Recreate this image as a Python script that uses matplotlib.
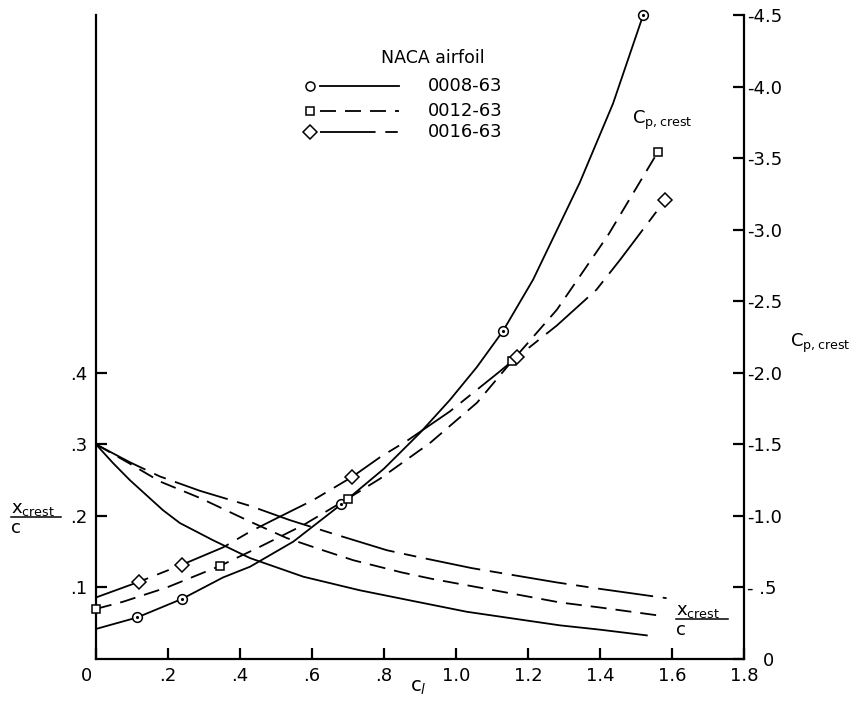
import matplotlib
matplotlib.use("Agg")
import matplotlib.pyplot as plt
from matplotlib.lines import Line2D
import matplotlib.transforms as mtransforms

plt.rcParams['font.family'] = ['DejaVu Sans']
plt.rcParams['lines.scale_dashes'] = False

# ---- data ----
# pressure coefficient at the crest (right axis, negative up)
cl_cp_0008 = [0, 0.114, 0.239, 0.353, 0.428, 0.548, 0.681, 0.80, 0.90, 0.983, 1.058, 1.13, 1.214, 1.344, 1.436, 1.52]
cp_0008 = [-0.21, -0.29, -0.42, -0.57, -0.645, -0.82, -1.08, -1.33, -1.58, -1.81, -2.04, -2.29, -2.65, -3.33, -3.88, -4.5]
cl_cp_0012 = [0, 0.075, 0.197, 0.344, 0.456, 0.576, 0.699, 0.789, 0.928, 1.058, 1.155, 1.28, 1.422, 1.56]
cp_0012 = [-0.35, -0.40, -0.50, -0.65, -0.785, -0.936, -1.12, -1.26, -1.51, -1.79, -2.08, -2.44, -2.96, -3.54]
cl_cp_0016 = [0, 0.12, 0.24, 0.353, 0.428, 0.511, 0.603, 0.71, 0.789, 0.867, 0.983, 1.117, 1.17, 1.28, 1.39, 1.456, 1.567, 1.58]
cp_0016 = [-0.43, -0.54, -0.66, -0.78, -0.89, -0.995, -1.11, -1.27, -1.41, -1.53, -1.73, -2.0, -2.11, -2.33, -2.58, -2.79, -3.16, -3.21]

# test points (markers)
cl_pts_0008 = [0.114, 0.239, 0.681, 1.13, 1.52]
cp_pts_0008 = [-0.29, -0.42, -1.08, -2.29, -4.5]
cl_pts_0012 = [0, 0.344, 0.699, 1.155, 1.56]
cp_pts_0012 = [-0.35, -0.65, -1.12, -2.08, -3.54]
cl_pts_0016 = [0.12, 0.24, 0.71, 1.17, 1.58]
cp_pts_0016 = [-0.54, -0.66, -1.27, -2.11, -3.21]

# crest location x_crest/c (left axis)
cl_x_0008 = [0, 0.047, 0.094, 0.14, 0.186, 0.233, 0.325, 0.428, 0.576, 0.733, 0.891, 1.03, 1.289, 1.4, 1.53]
x_0008 = [0.30, 0.274, 0.25, 0.229, 0.208, 0.19, 0.166, 0.141, 0.115, 0.096, 0.080, 0.066, 0.047, 0.041, 0.033]
cl_x_0012 = [0, 0.094, 0.178, 0.289, 0.428, 0.53, 0.63, 0.715, 0.849, 0.933, 1.085, 1.289, 1.4, 1.56]
x_0012 = [0.30, 0.273, 0.248, 0.225, 0.192, 0.169, 0.152, 0.138, 0.121, 0.112, 0.098, 0.079, 0.072, 0.061]
cl_x_0016 = [0, 0.094, 0.178, 0.289, 0.428, 0.539, 0.659, 0.808, 0.9, 1.044, 1.28, 1.4, 1.585]
x_0016 = [0.30, 0.275, 0.255, 0.235, 0.214, 0.194, 0.175, 0.152, 0.142, 0.127, 0.107, 0.098, 0.085]

airfoils = ['0008-63', '0012-63', '0016-63']
xticks = [0, 0.2, 0.4, 0.6, 0.8, 1.0, 1.2, 1.4, 1.6, 1.8]
xticklabels = ['0', '.2', '.4', '.6', '.8', '1.0', '1.2', '1.4', '1.6', '1.8']
lticks = [0.1, 0.2, 0.3, 0.4]
lticklabels = ['.1', '.2', '.3', '.4']
rticks = [0, -0.5, -1.0, -1.5, -2.0, -2.5, -3.0, -3.5, -4.0, -4.5]
rticklabels = ['0', '- .5', '-1.0', '-1.5', '-2.0', '-2.5', '-3.0', '-3.5', '-4.0', '-4.5']

# ---- styles ----
W, H = 859, 703
lw = 1.3
styles = {
    '0008-63': dict(ls='-', marker='o', ms=7),
    '0012-63': dict(ls=(0, (11.5, 6.5)), marker='s', ms=6.3),
    '0016-63': dict(ls=(0, (40, 7, 9, 7)), marker='D', ms=7.5),
}

fig = plt.figure(figsize=(W / 100, H / 100), dpi=100)
ax = fig.add_axes([96 / W, 44 / H, 648 / W, 644 / H])
ax2 = ax.twinx()

ax.set_xlim(0, 1.8)
ax.set_ylim(0, 0.9)
ax2.set_ylim(0, -4.5)

for a in (ax, ax2):
    a.spines['top'].set_visible(False)
    for s in a.spines.values():
        s.set_linewidth(1.6)
ax.spines['right'].set_visible(False)
ax2.spines['left'].set_visible(False)
ax2.spines['bottom'].set_visible(False)

ax.set_xticks(xticks)
ax.set_xticklabels(xticklabels)
ax.set_yticks(lticks)
ax.set_yticklabels(lticklabels)
ax2.set_yticks(rticks)
ax2.set_yticklabels(rticklabels)
ax.tick_params(axis='both', direction='in', length=8, width=1.6, labelsize=13, pad=6)
ax2.tick_params(axis='y', direction='in', length=8, width=1.6, labelsize=13, pad=2)

# the shared zero labels sit a little off the corner
ax.get_xticklabels()[0].set_transform(
    ax.get_xticklabels()[0].get_transform() + mtransforms.ScaledTranslation(-0.10, 0, fig.dpi_scale_trans))
ax2.get_yticklabels()[0].set_transform(
    ax2.get_yticklabels()[0].get_transform() + mtransforms.ScaledTranslation(0.16, 0, fig.dpi_scale_trans))

# ---- curves ----
cp_lines = [(cl_cp_0008, cp_0008), (cl_cp_0012, cp_0012), (cl_cp_0016, cp_0016)]
cp_pts = [(cl_pts_0008, cp_pts_0008), (cl_pts_0012, cp_pts_0012), (cl_pts_0016, cp_pts_0016)]
x_lines = [(cl_x_0008, x_0008), (cl_x_0012, x_0012), (cl_x_0016, x_0016)]

for name, (cx, cy), (px, py), (xx, xy) in zip(airfoils, cp_lines, cp_pts, x_lines):
    st = styles[name]
    ax2.plot(cx, cy, color='black', lw=lw, ls=st['ls'], zorder=2, solid_joinstyle='round')
    ax2.plot(px, py, ls='none', marker=st['marker'], ms=st['ms'], mfc='white',
             mec='black', mew=1.1, zorder=3, clip_on=False)
    if st['marker'] == 'o':
        ax2.plot(px, py, ls='none', marker='.', ms=2.5, color='black', zorder=4, clip_on=False)
    ax.plot(xx, xy, color='black', lw=lw, ls=st['ls'], zorder=2, solid_joinstyle='round')

# ---- legend (hand drawn like the original) ----
def fx(p):
    return p / W

def fy(p):
    return 1 - p / H

fig.text(fx(433), fy(58), 'NACA airfoil', ha='center', va='center', fontsize=12.5)
for name, yrow in zip(airfoils, [86, 111, 132]):
    st = styles[name]
    fig.add_artist(Line2D([fx(320), fx(399)], [fy(yrow), fy(yrow)], color='black', lw=lw,
                          ls=st['ls'], transform=fig.transFigure))
    fig.add_artist(Line2D([fx(310)], [fy(yrow)], ls='none', marker=st['marker'], ms=st['ms'] - 0.5,
                          mfc='white', mec='black', mew=1.1, transform=fig.transFigure))
    fig.text(fx(428), fy(yrow), name, ha='left', va='center', fontsize=13)

# ---- annotations ----
fig.text(fx(632), fy(120), r'$\mathregular{C_{p,crest}}$', ha='left', va='center', fontsize=13)
fig.text(fx(790), fy(343), r'$\mathregular{C_{p,crest}}$', ha='left', va='center', fontsize=13)
fig.text(fx(418), fy(688), r'$\mathregular{c}_{\mathit{l}}$', ha='center', va='center', fontsize=14)


def fraction(xl, yline, width):
    fig.text(fx(xl), fy(yline + 1), r'$\mathregular{x_{crest}}$', ha='left', va='bottom', fontsize=13)
    fig.add_artist(Line2D([fx(xl), fx(xl + width)], [fy(yline), fy(yline)], color='black', lw=1.1,
                          transform=fig.transFigure))
    fig.text(fx(xl), fy(yline + 2), 'c', ha='left', va='top', fontsize=13)


fraction(11, 517, 50)
fraction(676, 619, 52)

fig.savefig('out.png', dpi=100)
